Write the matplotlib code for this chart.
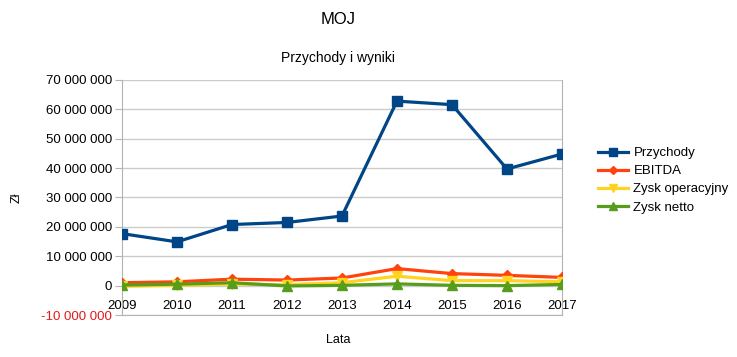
import matplotlib.pyplot as plt
import numpy as np

plt.rcParams['font.family'] = ['Liberation Sans', 'DejaVu Sans']

years = [2009, 2010, 2011, 2012, 2013, 2014, 2015, 2016, 2017]
przychody = [17.7e6, 14.9e6, 20.8e6, 21.5e6, 23.7e6, 62.8e6, 61.6e6, 39.7e6, 44.8e6]
ebitda = [1.0e6, 1.3e6, 2.2e6, 1.9e6, 2.6e6, 5.8e6, 4.1e6, 3.5e6, 2.8e6]
zysk_oper = [-0.2e6, 0.1e6, 0.5e6, 0.3e6, 1.0e6, 3.2e6, 1.7e6, 1.7e6, 1.3e6]
zysk_netto = [0.2e6, 0.5e6, 1.0e6, -0.1e6, 0.1e6, 0.6e6, 0.1e6, 0.0e6, 0.4e6]

series = [
    ('Przychody', przychody, '#004586', 's', 7),
    ('EBITDA', ebitda, '#ff420e', 'D', 5.5),
    ('Zysk operacyjny', zysk_oper, '#ffd320', 'v', 7.5),
    ('Zysk netto', zysk_netto, '#579d1c', '^', 7.5),
]


def fmt(v):
    s = '{:,.0f}'.format(abs(v)).replace(',', ' ')
    return ('-' if v < 0 else '') + s


fig = plt.figure(figsize=(7.37, 3.57), dpi=100)
ax = fig.add_axes([0.1655, 0.1176, 0.597, 0.6584])

x = np.arange(len(years))
for name, vals, col, mk, ms in series:
    ax.plot(x, vals, color=col, lw=2.3, marker=mk, ms=ms, label=name, zorder=5)

ax.set_xlim(0, len(years) - 1)
ax.set_ylim(-10e6, 70e6)
yt = np.arange(-10e6, 70e6 + 1, 10e6)
ax.set_yticks(yt)
ax.set_yticklabels([fmt(v) for v in yt], fontsize=9.5)
for lbl, v in zip(ax.get_yticklabels(), yt):
    if v < 0:
        lbl.set_color('#e01b1b')
ax.tick_params(axis='y', length=5, color='#b3b3b3', pad=2)
ax.grid(axis='y', color='#cccccc', lw=1)
ax.set_axisbelow(True)

ax.set_xticks([])
for sp in ax.spines.values():
    sp.set_color('#b3b3b3')
ax.spines['top'].set_visible(False)

# x labels sit under the zero line
sec = ax.secondary_xaxis(0.125)
sec.set_xticks(x)
sec.set_xticklabels([str(y) for y in years], fontsize=9.5)
sec.tick_params(length=0, pad=10)
sec.spines['bottom'].set_visible(False)

fig.text(0.459, 0.944, 'MOJ', ha='center', va='center', fontsize=12)
fig.text(0.459, 0.838, 'Przychody i wyniki', ha='center', va='center', fontsize=10)
fig.text(0.023, 0.445, 'Zł', ha='center', va='center', rotation=90, fontsize=9)
fig.text(0.459, 0.048, 'Lata', ha='center', va='center', fontsize=9)

fig.legend(loc='center left', bbox_to_anchor=(0.795, 0.495), frameon=False,
           fontsize=9.5, handlelength=2.3, labelspacing=0.45, handletextpad=0.4,
           markerscale=0.75)

fig.savefig('out.png', dpi=100)
